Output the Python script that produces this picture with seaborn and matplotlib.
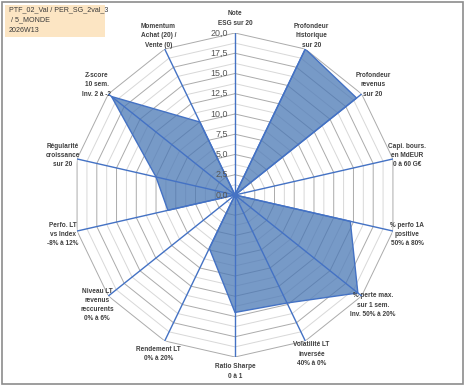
import numpy as np
import matplotlib
matplotlib.use("Agg")
import matplotlib.pyplot as plt
import matplotlib.transforms as mtransforms
from matplotlib.patches import Rectangle
import seaborn as sns
import pandas as pd

# ---- data ----
categories = [
    "Note\nESG sur 20",
    "Profondeur\nhistorique\nsur 20",
    "Profondeur\nrevenus\nsur 20",
    "Capi. bours.\nen MdEUR\n0 à 60 G€",
    "% perfo 1A\npositive\n50% à 80%",
    "% perte max.\nsur 1 sem.\nInv. 50% à 20%",
    "Volatilité LT\ninversée\n40% à 0%",
    "Ratio Sharpe\n0 à 1",
    "Rendement LT\n0% à 20%",
    "Niveau LT\nrevenus\nreccurents\n0% à 6%",
    "Perfo. LT\nvs Index\n-8% à 12%",
    "Régularité\ncroissance\nsur 20",
    "Z-score\n10 sem.\nInv. 2 à -2",
    "Momentum\nAchat (20) /\nVente (0)",
]
values = [0.0, 20.0, 19.2, 0.0, 14.6, 19.4, 14.8, 14.5, 7.3, 0.0, 8.5, 10.0, 19.5, 10.0]
major_ticks = [0.0, 2.5, 5.0, 7.5, 10.0, 12.5, 15.0, 17.5, 20.0]
minor_ticks = [1.25, 3.75, 6.25, 8.75, 11.25, 13.75, 16.25, 18.75]
tick_labels = ["0,0", "2,5", "5,0", "7,5", "10,0", "12,5", "15,0", "17,5", "20,0"]
title_text = "PTF_02_Val / PER_SG_2val_3\n / 5_MONDE\n2026W13"

# ---- style ----
sns.set_theme(style="white")
plt.rcParams["font.family"] = ["Liberation Sans", "DejaVu Sans"]

W, H = 467, 388
fig = plt.figure(figsize=(W / 100, H / 100), dpi=100)
fig.patch.set_facecolor("white")

cx, cy, R = 235, 195, 162
ax = fig.add_axes([(cx - R) / W, (H - cy - R) / H, 2 * R / W, 2 * R / H], projection="polar")
ax.set_theta_zero_location("N")
ax.set_theta_direction(-1)
ax.set_ylim(0, 20)
ax.grid(False)
ax.spines["polar"].set_visible(False)
ax.set_xticks([])
ax.set_yticks([])
ax.set_facecolor("none")

n = len(categories)
theta = np.linspace(0, 2 * np.pi, n, endpoint=False)
theta_closed = np.append(theta, theta[0])

# gridlines (polygons)
for r in minor_ticks:
    ax.plot(theta_closed, [r] * (n + 1), color="#D8D8D8", lw=0.7, zorder=1)
for r in major_ticks[1:]:
    ax.plot(theta_closed, [r] * (n + 1), color="#ABABAB", lw=0.7, zorder=1)

# data
vals_closed = np.append(values, values[0])
ax.fill(theta_closed, vals_closed, color="#4A78B5", alpha=0.75, lw=0, zorder=2)
df = pd.DataFrame({"theta": theta_closed, "val": vals_closed})
sns.lineplot(data=df, x="theta", y="val", sort=False, estimator=None, ax=ax,
             color="#4472C4", lw=1.0, zorder=3)
ax.set_xlabel("")
ax.set_ylabel("")

# spokes
for t in theta:
    ax.plot([t, t], [0, 20], color="#4472C4", lw=1.0, zorder=4)
ax.plot([0], [0], marker="o", ms=3, color="#4472C4", zorder=5)
ax.set_ylim(0, 20)

# radial tick labels
off = mtransforms.offset_copy(ax.transData, fig=fig, x=-7, y=0, units="dots")
for r, lab in zip(major_ticks, tick_labels):
    ax.text(0, r, lab, transform=off, ha="right", va="center", fontsize=6.4,
            color="#555555", zorder=6)

# category labels
for t, lab in zip(theta, categories):
    ax.text(t, 21.8, lab, ha="center", va="center", fontsize=4.7,
            fontweight="bold", color="#404040", linespacing=1.45, clip_on=False)

# title box
fig.patches.append(Rectangle((5 / W, 1 - 37 / H), 100 / W, 32 / H,
                             transform=fig.transFigure, facecolor="#FCE5C3",
                             edgecolor="none", zorder=0))
fig.text(9 / W, 1 - 6 / H, title_text, ha="left", va="top", fontsize=5.1,
         color="#3A3A3A", linespacing=1.7, family=["Liberation Sans", "DejaVu Sans"])

# outer border
fig.patches.append(Rectangle((1.5 / W, 4 / H), 461 / W, 382.5 / H,
                             transform=fig.transFigure, facecolor="none",
                             edgecolor="#8C8C8C", lw=1.2, zorder=10))

fig.savefig("out.png", dpi=100)
